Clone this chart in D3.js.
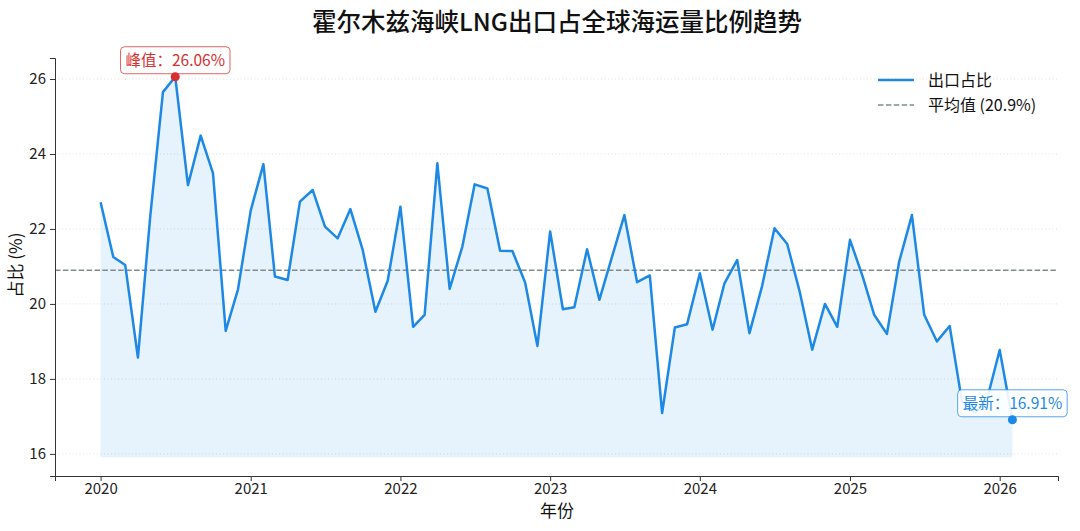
<!DOCTYPE html>
<html>
<head>
<meta charset="utf-8">
<script src="https://cdn.jsdelivr.net/npm/d3@7"></script>
<style>
  body { margin: 0; background: #fff; }
  svg { font-family: "Noto Sans CJK SC", "Noto Sans", sans-serif; }
  .axis text { font-size: 15px; fill: #222; font-family: "Noto Sans CJK SC", sans-serif; }
  .axis path, .axis line { stroke: #333; }
</style>
</head>
<body>
<script>
// monthly share of LNG exports (%), Jan 2020 .. Feb 2026
var startMonth = new Date(2020, 0, 1);
var share2020 = [22.71, 21.25, 21.04, 18.57, 22.33, 25.65, 26.06, 23.17, 24.49, 23.49, 19.28, 20.39];
var share2021 = [22.49, 23.73, 20.73, 20.64, 22.73, 23.04, 22.06, 21.75, 22.53, 21.44, 19.79, 20.62];
var share2022 = [22.59, 19.39, 19.71, 23.75, 20.40, 21.53, 23.19, 23.08, 21.42, 21.41, 20.57, 18.88];
var share2023 = [21.93, 19.86, 19.91, 21.46, 20.11, 21.26, 22.37, 20.58, 20.76, 17.09, 19.37, 19.46];
var share2024 = [20.82, 19.31, 20.55, 21.17, 19.22, 20.49, 22.02, 21.60, 20.30, 18.78, 20.00, 19.39];
var share2025 = [21.71, 20.73, 19.71, 19.20, 21.13, 22.37, 19.71, 19.00, 19.41, 17.40, 17.10, 17.45];
var share2026 = [18.77, 16.91];
var avgShare = 20.9;
var yTicks = [16, 18, 20, 22, 24, 26];

var values = [].concat(share2020, share2021, share2022, share2023, share2024, share2025, share2026);
var data = values.map(function(v, i) {
  return { date: d3.timeMonth.offset(startMonth, i), value: v };
});

var W = 1080, H = 531;
var margin = { left: 55, right: 22, top: 58, bottom: 55 };

var svg = d3.select('body').append('svg')
  .attr('width', W)
  .attr('height', H);

// x: time with 5% padding on both sides
var t0 = data[0].date, t1 = data[data.length - 1].date;
var pad = (t1 - t0) * 0.05;
var x = d3.scaleTime()
  .domain([new Date(+t0 - pad), new Date(+t1 + pad)])
  .range([margin.left, W - margin.right]);

var vMin = d3.min(values), vMax = d3.max(values);
var y = d3.scaleLinear()
  .domain([vMin - 1.5, vMax + 0.5])
  .range([H - margin.bottom, margin.top]);

// grid
svg.append('g')
  .selectAll('line')
  .data(yTicks)
  .enter()
  .append('line')
  .attr('x1', margin.left)
  .attr('x2', W - margin.right)
  .attr('y1', function(d) { return y(d); })
  .attr('y2', function(d) { return y(d); })
  .attr('stroke', '#d8d8d8')
  .attr('stroke-width', 0.8)
  .attr('stroke-dasharray', '1,2.5');

// fill under line
var area = d3.area()
  .x(function(d) { return x(d.date); })
  .y0(y(vMin - 1))
  .y1(function(d) { return y(d.value); });

svg.append('path')
  .datum(data)
  .attr('d', area)
  .attr('fill', '#1e88e5')
  .attr('fill-opacity', 0.11);

// mean line
svg.append('line')
  .attr('x1', margin.left)
  .attr('x2', W - margin.right)
  .attr('y1', y(avgShare))
  .attr('y2', y(avgShare))
  .attr('stroke', '#808b8d')
  .attr('stroke-width', 1.5)
  .attr('stroke-dasharray', '5.5,2.4');

// main line
var line = d3.line()
  .x(function(d) { return x(d.date); })
  .y(function(d) { return y(d.value); });

svg.append('path')
  .datum(data)
  .attr('d', line)
  .attr('fill', 'none')
  .attr('stroke', '#1e88e5')
  .attr('stroke-width', 2.5)
  .attr('stroke-linejoin', 'round');

// axes
svg.append('g')
  .attr('class', 'axis')
  .attr('transform', 'translate(0,' + (H - margin.bottom) + ')')
  .call(d3.axisBottom(x)
    .ticks(d3.timeYear.every(1))
    .tickFormat(d3.timeFormat('%Y'))
    .tickSizeOuter(0)
    .tickSize(5)
    .tickPadding(2));

svg.append('g')
  .attr('class', 'axis')
  .attr('transform', 'translate(' + margin.left + ',0)')
  .call(d3.axisLeft(y)
    .tickValues(yTicks)
    .tickSizeOuter(0)
    .tickSize(5)
    .tickPadding(4));

// annotations
function annotate(d, color, label) {
  var px = x(d.date), py = y(d.value);
  var g = svg.append('g');
  var txt = g.append('text')
    .attr('x', px)
    .attr('y', py - 11)
    .attr('text-anchor', 'middle')
    .attr('font-size', '15.5px')
    .attr('fill', color)
    .text(label);
  var bb = txt.node().getBBox();
  g.insert('rect', 'text')
    .attr('x', bb.x - 5)
    .attr('y', py - 3 - 27)
    .attr('width', bb.width + 10)
    .attr('height', 27)
    .attr('rx', 4)
    .attr('fill', '#fff')
    .attr('fill-opacity', 0.9)
    .attr('stroke', color)
    .attr('stroke-opacity', 0.75)
    .attr('stroke-width', 1);
  svg.append('circle')
    .attr('cx', px)
    .attr('cy', py)
    .attr('r', 4.5)
    .attr('fill', color);
}

var peak = data[d3.maxIndex(data, function(d) { return d.value; })];
var last = data[data.length - 1];
annotate(peak, '#d63031', '峰值：' + peak.value.toFixed(2) + '%');
annotate(last, '#1e88e5', '最新：' + last.value.toFixed(2) + '%');

// title and axis labels
svg.append('text')
  .attr('x', 557)
  .attr('y', 31)
  .attr('text-anchor', 'middle')
  .attr('font-size', '24.5px')
  .attr('font-weight', 500)
  .attr('fill', '#111')
  .text('霍尔木兹海峡LNG出口占全球海运量比例趋势');

svg.append('text')
  .attr('x', 557)
  .attr('y', 517)
  .attr('text-anchor', 'middle')
  .attr('font-size', '17px')
  .attr('fill', '#111')
  .text('年份');

svg.append('text')
  .attr('transform', 'translate(22,265) rotate(-90)')
  .attr('text-anchor', 'middle')
  .attr('font-size', '17px')
  .attr('fill', '#111')
  .text('占比 (%)');

// legend
var legend = svg.append('g').attr('transform', 'translate(878,80)');
legend.append('line')
  .attr('x1', 0).attr('x2', 36).attr('y1', 0).attr('y2', 0)
  .attr('stroke', '#1e88e5').attr('stroke-width', 2.5);
legend.append('text')
  .attr('x', 50).attr('y', 6)
  .attr('font-size', '16px').attr('fill', '#111')
  .text('出口占比');
legend.append('line')
  .attr('x1', 0).attr('x2', 36).attr('y1', 25).attr('y2', 25)
  .attr('stroke', '#808b8d').attr('stroke-width', 1.5)
  .attr('stroke-dasharray', '5.5,2.4');
legend.append('text')
  .attr('x', 50).attr('y', 31)
  .attr('font-size', '16px').attr('fill', '#111')
  .text('平均值 (' + avgShare.toFixed(1) + '%)');
</script>
</body>
</html>
